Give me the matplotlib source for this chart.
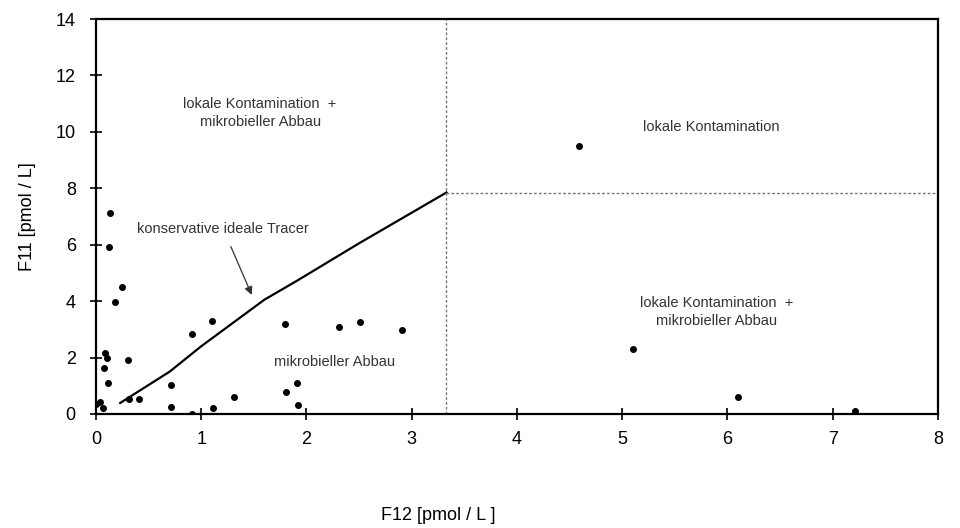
import matplotlib
matplotlib.use("Agg")
import matplotlib.pyplot as plt

plt.rcParams['font.family'] = ['Liberation Sans', 'DejaVu Sans']

# Messpunkte F12 / F11 [pmol/L]
f12 = [0.13, 0.12, 0.25, 0.18, 0.09, 0.10, 0.08, 0.11, 0.30, 0.04, 0.07, 0.00,
       0.31, 0.41, 0.71, 0.71, 0.91, 0.91, 1.10, 1.11, 1.31,
       1.80, 1.81, 1.91, 1.92, 2.31, 2.51, 2.91,
       4.59, 5.10, 6.10, 7.21]
f11 = [7.13, 5.92, 4.50, 3.97, 2.16, 2.00, 1.63, 1.10, 1.91, 0.42, 0.20, 0.35,
       0.52, 0.52, 1.03, 0.23, 2.84, 0.00, 3.30, 0.21, 0.60,
       3.19, 0.78, 1.10, 0.30, 3.09, 3.26, 2.98,
       9.50, 2.30, 0.60, 0.10]

# Kurve konservativer idealer Tracer
tracer_x = [0.23, 0.70, 1.00, 1.60, 1.90, 2.50, 3.33]
tracer_y = [0.39, 1.50, 2.40, 4.05, 4.70, 6.05, 7.85]

grenze_f12 = 3.33
grenze_f11 = 7.85

fig = plt.figure(figsize=(9.6, 5.28), dpi=100)
ax = fig.add_axes([0.1, 0.216, 0.877, 0.748])

ax.plot(tracer_x, tracer_y, color='black', lw=1.6)
ax.scatter(f12, f11, s=16, color='black', zorder=3)

ax.plot([grenze_f12, grenze_f12], [0, 14], color='#777777', lw=1.0, ls=(0, (2, 1.5)))
ax.plot([grenze_f12, 8], [grenze_f11, grenze_f11], color='#777777', lw=1.0, ls=(0, (2, 1.5)))

txt = dict(fontsize=10.5, color='#333333', ha='center', va='center', linespacing=1.4)
ax.text(1.56, 10.67, 'lokale Kontamination  +\nmikrobieller Abbau', **txt)
ax.text(5.85, 10.18, 'lokale Kontamination', **txt)
ax.text(5.9, 3.62, 'lokale Kontamination  +\nmikrobieller Abbau', **txt)
ax.text(2.27, 1.84, 'mikrobieller Abbau', **txt)
ax.annotate('konservative ideale Tracer', xy=(1.48, 4.22), xytext=(1.21, 6.55),
            fontsize=10.5, color='#333333', ha='center', va='center',
            arrowprops=dict(arrowstyle='-|>', color='#333333', lw=0.9,
                            shrinkA=6, shrinkB=0, mutation_scale=12))

ax.set_xlim(0, 8)
ax.set_ylim(0, 14)
ax.set_xticks(range(0, 9))
ax.set_yticks(range(0, 15, 2))
ax.tick_params(direction='inout', length=9, width=1.2, labelsize=13, colors='black')
ax.tick_params(axis='x', pad=8)
ax.tick_params(axis='y', pad=10)
for s in ax.spines.values():
    s.set_linewidth(1.6)

ax.set_xlabel('F12 [pmol / L ]', fontsize=13)
ax.set_ylabel('F11 [pmol / L]', fontsize=13)
ax.xaxis.set_label_coords(0.406, -0.235)
ax.yaxis.set_label_coords(-0.071, 0.5)

plt.savefig('out.png', dpi=100)
